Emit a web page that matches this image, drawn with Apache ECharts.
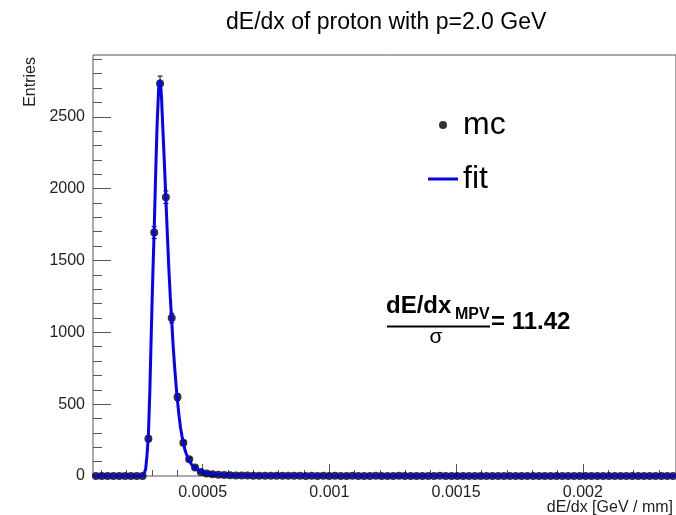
<!DOCTYPE html>
<html><head><meta charset="utf-8">
<script src="https://cdn.jsdelivr.net/npm/echarts@6/dist/echarts.min.js"></script>
<style>html,body{margin:0;padding:0;background:#fff}#c{width:676px;height:515px}</style>
</head><body><div id="c"></div>
<script>
// ---- data ----
const titleText = 'dE/dx of proton with p=2.0 GeV';
const xAxisTitle = 'dE/dx [GeV / mm]';
const yAxisTitle = 'Entries';
const legendNames = ['mc', 'fit'];
const annotationValue = '= 11.42';

const histMin = 0.0000676;      // histogram lower edge
const binWidth = 0.000023;      // histogram bin width
const nBins = 100;
const yMax = 2930;

const xMajorTicks = [0.0005, 0.001, 0.0015, 0.002];
const xMajorLabels = ['0.0005', '0.001', '0.0015', '0.002'];
const xMinorTicks = [0.0001, 0.0002, 0.0003, 0.0004, 0.0006, 0.0007, 0.0008, 0.0009,
  0.0011, 0.0012, 0.0013, 0.0014, 0.0016, 0.0017, 0.0018, 0.0019, 0.0021, 0.0022, 0.0023];
const yMajorTicks = [0, 500, 1000, 1500, 2000, 2500];
const yMajorLabels = ['0', '500', '1000', '1500', '2000', '2500'];
const yMinorTicks = [100, 200, 300, 400, 600, 700, 800, 900, 1100, 1200, 1300, 1400,
  1600, 1700, 1800, 1900, 2100, 2200, 2300, 2400, 2600, 2700, 2800, 2900];

// mc histogram counts (100 bins)
const mcCounts = [
  0, 0, 0, 0, 0, 0, 0, 0, 0, 260,
  1694, 2731, 1940, 1099, 549, 231, 116, 60, 28, 18,
  12, 9, 7, 5, 4, 3, 3, 2, 2, 2,
  1, 1, 1, 1, 1, 1, 0, 1, 0, 1,
  0, 1, 0, 0, 1, 0, 0, 0, 1, 0,
  0, 0, 1, 0, 0, 0, 0, 0, 0, 1,
  0, 0, 0, 0, 0, 0, 0, 0, 0, 0,
  0, 0, 0, 0, 0, 0, 0, 0, 0, 0,
  0, 0, 0, 0, 0, 0, 0, 0, 0, 0,
  0, 0, 0, 0, 0, 0, 0, 0, 0, 0
];

// fit curve
const fitX = [0.0000676, 0.000265, 0.000270, 0.000275, 0.000280, 0.0002861, 0.000292, 0.0002976,
  0.0003033, 0.0003091, 0.000315, 0.0003206, 0.0003264, 0.000330, 0.000334, 0.000338, 0.0003436,
  0.0003494, 0.0003551, 0.000361, 0.0003666, 0.0003724, 0.0003781, 0.000384, 0.0003896, 0.0003954,
  0.0004011, 0.000407, 0.0004126, 0.0004184, 0.0004241, 0.00043, 0.0004356, 0.0004414, 0.0004471,
  0.0004586, 0.0004701, 0.0004816, 0.0004931, 0.0005046, 0.0005276, 0.0005506, 0.0005736,
  0.0006196, 0.0006656, 0.0007346, 0.0008266, 0.0009646, 0.0012, 0.0016, 0.0023676];
const fitY = [0, 0, 8, 45, 130, 280, 600, 1000,
  1380, 1720, 2120, 2450, 2690, 2755, 2735, 2630, 2400,
  2170, 1930, 1680, 1450, 1250, 1080, 900, 760, 630,
  520, 420, 340, 280, 230, 185, 155, 128, 105,
  75, 55, 42, 33, 26, 18, 13, 10,
  6, 4, 3, 2, 1, 0.5, 0.2, 0];

// ---- chart ----
const F = "'Liberation Sans', Arial, Helvetica, sans-serif";
const histMax = histMin + nBins * binWidth;
const mcData = mcCounts.map((c, i) => [histMin + (i + 0.5) * binWidth, c, Math.sqrt(c)]);
const fitData = fitX.map((x, i) => [x, fitY[i]]);
const labelMap = {};
xMajorTicks.forEach((v, i) => labelMap[v] = xMajorLabels[i]);
const yLabelMap = {};
yMajorTicks.forEach((v, i) => yLabelMap[v] = yMajorLabels[i]);

const chart = echarts.init(document.getElementById('c'), null, {renderer: 'canvas'});
const tickColor = '#555';
chart.setOption({
  animation: false,
  backgroundColor: '#fff',
  title: {
    text: titleText, left: 221, top: 6,
    textStyle: {fontFamily: F, fontSize: 23, fontWeight: 'normal', color: '#000'}
  },
  legend: {
    orient: 'vertical', left: 423, top: 104, itemWidth: 30, itemHeight: 8, itemGap: 22,
    textStyle: {fontFamily: F, fontSize: 32, color: '#000'},
    data: [{name: legendNames[0], icon: 'circle'},
           {name: legendNames[1], icon: 'path://M0,0L30,0L30,3L0,3Z'}]
  },
  grid: {left: 93, top: 55, width: 590, height: 421, show: true, borderColor: '#555', borderWidth: 1,
    backgroundColor: 'transparent', containLabel: false},
  xAxis: [
    {type: 'value', min: histMin, max: histMax, position: 'bottom',
      axisLine: {show: false}, splitLine: {show: false},
      axisTick: {show: true, inside: true, length: 12, customValues: xMajorTicks, lineStyle: {color: tickColor}},
      axisLabel: {show: true, customValues: xMajorTicks, margin: 9, fontFamily: F, fontSize: 16, color: '#222',
        formatter: v => labelMap[v] !== undefined ? labelMap[v] : ''}},
    {type: 'value', min: histMin, max: histMax, position: 'bottom',
      axisLine: {show: false}, splitLine: {show: false},
      axisTick: {show: true, inside: true, length: 6, customValues: xMinorTicks, lineStyle: {color: tickColor}},
      axisLabel: {show: false}}
  ],
  yAxis: [
    {type: 'value', min: 0, max: yMax, position: 'left',
      axisLine: {show: false}, splitLine: {show: false},
      axisTick: {show: true, inside: true, length: 18, customValues: yMajorTicks, lineStyle: {color: tickColor}},
      axisLabel: {show: true, customValues: yMajorTicks, margin: 8, fontFamily: F, fontSize: 16, color: '#222',
        formatter: v => yLabelMap[v] !== undefined ? yLabelMap[v] : ''}},
    {type: 'value', min: 0, max: yMax, position: 'left',
      axisLine: {show: false}, splitLine: {show: false},
      axisTick: {show: true, inside: true, length: 9, customValues: yMinorTicks, lineStyle: {color: tickColor}},
      axisLabel: {show: false}}
  ],
  series: [
    {type: 'custom', name: 'err', xAxisIndex: 0, yAxisIndex: 0, data: mcData, z: 3, silent: true,
      encode: {x: 0, y: 1},
      renderItem: function (params, api) {
        const x = api.value(0), y = api.value(1), e = api.value(2);
        if (!(e > 0)) return null;
        const t = api.coord([x, y + e]), b = api.coord([x, y - e]);
        const st = {stroke: '#000', lineWidth: 1};
        return {type: 'group', children: [
          {type: 'line', shape: {x1: t[0], y1: t[1], x2: b[0], y2: b[1]}, style: st},
          {type: 'line', shape: {x1: t[0] - 2.5, y1: t[1], x2: t[0] + 2.5, y2: t[1]}, style: st},
          {type: 'line', shape: {x1: b[0] - 2.5, y1: b[1], x2: b[0] + 2.5, y2: b[1]}, style: st}
        ]};
      }},
    {type: 'scatter', name: legendNames[0], data: mcData, symbol: 'circle', symbolSize: 8,
      itemStyle: {color: '#000'}, z: 4, encode: {x: 0, y: 1}},
    {type: 'line', name: legendNames[1], data: fitData, symbol: 'none', showSymbol: false,
      lineStyle: {color: '#0000ff', width: 3}, itemStyle: {color: '#0000ff'}, z: 5}
  ],
  graphic: [
    {type: 'text', style: {text: xAxisTitle, x: 673, y: 508, align: 'right', verticalAlign: 'middle',
      fontFamily: F, fontSize: 16, fill: '#222'}},
    {type: 'text', rotation: Math.PI / 2, x: 31, y: 57,
      style: {text: yAxisTitle, x: 0, y: 0, align: 'right', verticalAlign: 'middle',
      fontFamily: F, fontSize: 16, fill: '#222'}},
    {type: 'text', style: {text: 'dE/dx', x: 386, y: 306, verticalAlign: 'middle',
      fontFamily: F, fontSize: 24, fontWeight: 'bold', fill: '#000'}},
    {type: 'text', style: {text: 'MPV', x: 455, y: 315, verticalAlign: 'middle',
      fontFamily: F, fontSize: 16, fontWeight: 'bold', fill: '#000'}},
    {type: 'line', shape: {x1: 387, y1: 326.5, x2: 490, y2: 326.5}, style: {stroke: '#000', lineWidth: 2}},
    {type: 'text', style: {text: 'σ', x: 436, y: 337, align: 'center', verticalAlign: 'middle',
      fontFamily: F, fontSize: 21, fill: '#000'}},
    {type: 'text', style: {text: annotationValue, x: 491, y: 322, verticalAlign: 'middle',
      fontFamily: F, fontSize: 24, fontWeight: 'bold', fill: '#000'}}
  ]
});
</script></body></html>
